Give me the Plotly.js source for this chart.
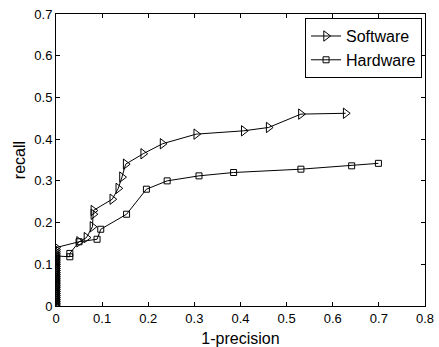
<!DOCTYPE html>
<html>
<head>
<meta charset="utf-8">
<script src="https://cdn.plot.ly/plotly-3.0.1.min.js"></script>
<style>html,body{margin:0;padding:0;background:#fff;}#chart{width:439px;height:347px;}</style>
</head>
<body>
<div id="chart"></div>
<script>
var softwareX = [0, 0, 0, 0, 0, 0, 0, 0, 0, 0, 0, 0, 0, 0, 0, 0, 0, 0, 0, 0, 0, 0, 0, 0, 0, 0, 0, 0, 0, 0.050, 0.066, 0.079, 0.081, 0.081, 0.122, 0.135, 0.143, 0.151, 0.189, 0.231, 0.304, 0.407, 0.461, 0.531, 0.628];
var softwareY = [0, 0.005, 0.01, 0.015, 0.02, 0.025, 0.03, 0.035, 0.04, 0.045, 0.05, 0.055, 0.06, 0.065, 0.07, 0.075, 0.08, 0.085, 0.09, 0.095, 0.10, 0.105, 0.11, 0.115, 0.12, 0.125, 0.13, 0.135, 0.14, 0.154, 0.164, 0.190, 0.220, 0.229, 0.256, 0.282, 0.309, 0.340, 0.365, 0.389, 0.412, 0.420, 0.428, 0.460, 0.462];
var hardwareX = [0, 0, 0, 0, 0, 0, 0, 0, 0, 0, 0, 0, 0, 0, 0, 0, 0, 0, 0, 0, 0, 0, 0, 0, 0, 0.030, 0.030, 0.050, 0.089, 0.097, 0.153, 0.196, 0.241, 0.310, 0.385, 0.531, 0.641, 0.699];
var hardwareY = [0, 0.005, 0.01, 0.015, 0.02, 0.025, 0.03, 0.035, 0.04, 0.045, 0.05, 0.055, 0.06, 0.065, 0.07, 0.075, 0.08, 0.085, 0.09, 0.095, 0.10, 0.105, 0.11, 0.115, 0.12, 0.118, 0.126, 0.154, 0.160, 0.184, 0.220, 0.280, 0.300, 0.312, 0.320, 0.328, 0.336, 0.342];
var seriesNames = ["Software", "Hardware"];
var xTitle = "1-precision";
var yTitle = "recall";

var font = "Liberation Sans, Arial, Helvetica, sans-serif";
var traces = [
  {x: softwareX, y: softwareY, name: seriesNames[0], mode: "lines+markers", type: "scatter",
   line: {color: "#000", width: 1},
   marker: {symbol: "triangle-right-open", size: 9, color: "#000", line: {width: 1, color: "#000"}}},
  {x: hardwareX, y: hardwareY, name: seriesNames[1], mode: "lines+markers", type: "scatter",
   line: {color: "#000", width: 1},
   marker: {symbol: "square-open", size: 6, color: "#000", line: {width: 1, color: "#000"}}}
];
var axisCommon = {
  showline: true, mirror: "ticks", linecolor: "#000", linewidth: 1,
  ticks: "inside", ticklen: 4, tickcolor: "#000", tickwidth: 1,
  showgrid: false, zeroline: false,
  tickfont: {family: font, size: 13, color: "#000"}
};
var layout = {
  width: 439, height: 347,
  margin: {l: 56, r: 14, t: 14, b: 41},
  paper_bgcolor: "#fff", plot_bgcolor: "#fff",
  showlegend: true,
  legend: {x: 0.992, y: 0.986, xanchor: "right", yanchor: "top",
           bgcolor: "#fff", bordercolor: "#000", borderwidth: 1,
           font: {family: font, size: 16, color: "#000"},
           tracegroupgap: 0, itemwidth: 30},
  xaxis: Object.assign({}, axisCommon, {range: [0, 0.8], dtick: 0.1,
    title: {text: xTitle, font: {family: font, size: 16, color: "#000"}, standoff: 8}}),
  yaxis: Object.assign({}, axisCommon, {range: [0, 0.7], dtick: 0.1,
    title: {text: yTitle, font: {family: font, size: 16, color: "#000"}, standoff: 4}})
};
Plotly.newPlot("chart", traces, layout, {displayModeBar: false, staticPlot: true});
</script>
</body>
</html>
